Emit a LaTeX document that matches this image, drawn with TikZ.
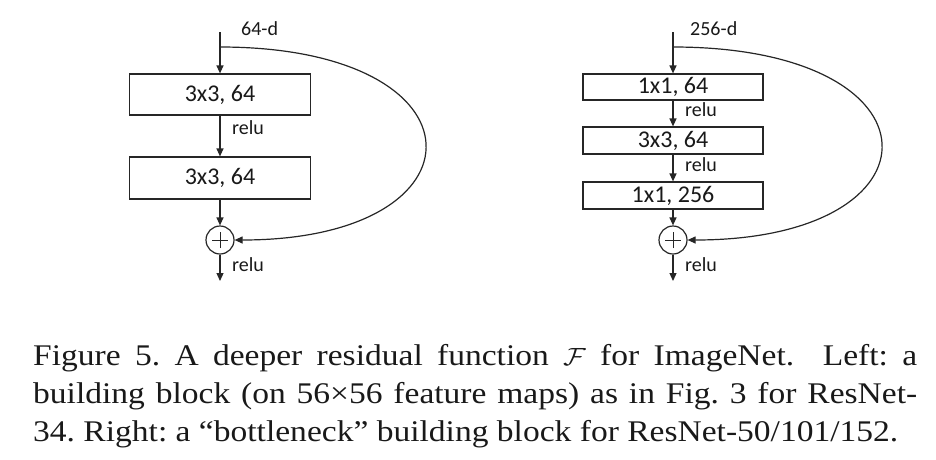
\documentclass[tikz,border=0pt]{standalone}
\usepackage{fontspec}
\setmainfont{Liberation Serif}
\newfontfamily\diagfont{Carlito}
\usetikzlibrary{arrows.meta}
\newlength\capLthree
\frenchspacing
\begin{document}
\settowidth\capLthree{\fontsize{30}{36}\selectfont 34. Right: a “bottleneck” building block for ResNet-50/101/152.}%
\pgfmathsetmacro\capS{865/\capLthree}%
\pgfmathsetmacro\capW{884/\capS}%
\begin{tikzpicture}[x=1pt,y=-1pt,
  line/.style={draw=black!85, line width=1.2pt},
  arr/.style={line, -{Triangle[length=8pt,width=7pt]}},
  conv/.style={line, fill=white, minimum width=181pt, inner sep=0pt, font=\diagfont\fontsize{24}{28}\selectfont, text=black!90},
  lbl/.style={font=\diagfont\fontsize{20}{24}\selectfont, text=black!90, inner sep=0pt, anchor=west},
  plus/.style={line, circle, minimum size=28pt, inner sep=0pt},
  capline/.style={anchor=base west, inner sep=0pt, font=\fontsize{30}{36}\selectfont, text=black!90}]
\useasboundingbox (0,0) rectangle (936,459);
% ---------------- left block ----------------
\coordinate (Lin) at (220,32);
\coordinate (Lsplit) at (220,47);
\node[conv, minimum height=41pt] (L1) at (220,94.5) {3x3, 64};
\node[conv, minimum height=42pt] (L2) at (220,178) {3x3, 64};
\node[plus] (Lp) at (220,240) {};
\coordinate (Lout) at (220,281);
\draw[line, line width=1pt] ([xshift=-8pt]Lp.center) -- ([xshift=8pt]Lp.center);
\draw[line, line width=1pt] ([yshift=-8pt]Lp.center) -- ([yshift=8pt]Lp.center);
\draw[arr] (Lin) -- (L1);
\draw[arr] (L1) -- (L2);
\draw[arr] (L2) -- (Lp);
\draw[arr] (Lp) -- (Lout);
\draw[arr] (Lsplit) .. controls (491,47) and (491,240) .. (Lp.east);
\node[lbl] (Ld) at (241,29) {64-d};
\node[lbl] (Lr1) at (232,128) {relu};
\node[lbl] (Lr2) at (232,265) {relu};
% ---------------- right block ----------------
\coordinate (Rin) at (673,32);
\coordinate (Rsplit) at (673,47);
\node[conv, minimum width=180pt, minimum height=26pt] (R1) at (673,87) {1x1, 64};
\node[conv, minimum width=180pt, minimum height=27pt] (R2) at (673,140.5) {3x3, 64};
\node[conv, minimum width=180pt, minimum height=27pt] (R3) at (673,195.5) {1x1, 256};
\node[plus] (Rp) at (673,240) {};
\coordinate (Rout) at (673,281);
\draw[line, line width=1pt] ([xshift=-8pt]Rp.center) -- ([xshift=8pt]Rp.center);
\draw[line, line width=1pt] ([yshift=-8pt]Rp.center) -- ([yshift=8pt]Rp.center);
\draw[arr] (Rin) -- (R1);
\draw[arr] (R1) -- (R2);
\draw[arr] (R2) -- (R3);
\draw[arr] (R3) -- (Rp);
\draw[arr] (Rp) -- (Rout);
\draw[arr] (Rsplit) .. controls (948,47) and (948,240) .. (Rp.east);
\node[lbl] (Rd) at (690,29) {256-d};
\node[lbl] (Rr1) at (685,110) {relu};
\node[lbl] (Rr2) at (685,165) {relu};
\node[lbl] (Rr3) at (685,265) {relu};
% ---------------- caption ----------------
\node[capline] (C1) at (33,365) {\scalebox{\capS}[1]{\hbox to \capW pt{Figure 5. A deeper residual function $\mathcal{F}$ for ImageNet.\ \ Left: a}}};
\node[capline] (C2) at (33,403) {\scalebox{\capS}[1]{\hbox to \capW pt{building block (on 56×56 feature maps) as in Fig. 3 for ResNet-}}};
\node[capline] (C3) at (33,441) {\scalebox{\capS}[1]{34. Right: a “bottleneck” building block for ResNet-50/101/152.}};
\end{tikzpicture}
\end{document}
